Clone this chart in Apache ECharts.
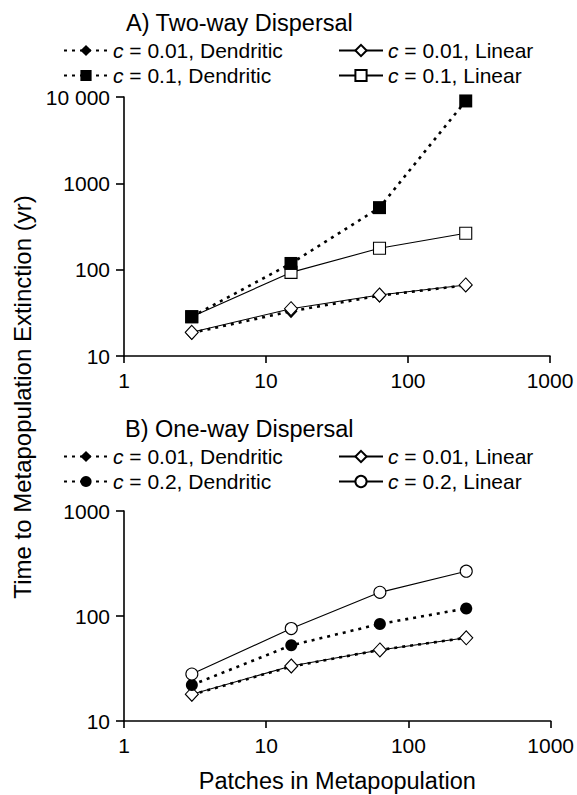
<!DOCTYPE html>
<html>
<head>
<meta charset="utf-8">
<script src="https://cdn.jsdelivr.net/npm/echarts@6/dist/echarts.min.js"></script>
<style>
html,body{margin:0;padding:0;background:#fff;}
#chart{width:577px;height:795px;}
</style>
</head>
<body>
<div id="chart"></div>
<script>
// ---- data ----
const patches = [3, 15, 63, 255];
const xTicks = [1, 10, 100, 1000];
const yTicksTop = [10, 100, 1000, 10000];
const yTicksBottom = [10, 100, 1000];

// A) Two-way dispersal
const twoDend001 = [18.5, 33, 50, 66];
const twoLin001 = [18.8, 35.3, 50.9, 66.5];
const twoDend01 = [28.5, 118, 523, 9000];
const twoLin01 = [28.5, 93, 177, 264];

// B) One-way dispersal
const oneDend001 = [17.8, 33, 47.5, 62];
const oneLin001 = [18, 33.4, 47.5, 62];
const oneDend02 = [22, 52.6, 84, 118];
const oneLin02 = [28, 76, 168, 267];

const titleA = 'A) Two-way Dispersal';
const titleB = 'B) One-way Dispersal';
const yTitle = 'Time to Metapopulation Extinction (yr)';
const xTitle = 'Patches in Metapopulation';

const legendText = {
  a1: '= 0.01, Dendritic',
  a2: '= 0.1, Dendritic',
  a3: '= 0.01, Linear',
  a4: '= 0.1, Linear',
  b1: '= 0.01, Dendritic',
  b2: '= 0.2, Dendritic',
  b3: '= 0.01, Linear',
  b4: '= 0.2, Linear'
};

const FONT = 'Liberation Sans, Arial, sans-serif';
const pairs = (ys) => patches.map((x, i) => [x, ys[i]]);

function dend(name, ys, symbol, size, xi) {
  return {
    name, type: 'line', xAxisIndex: xi, yAxisIndex: xi, data: pairs(ys),
    symbol, symbolSize: size,
    lineStyle: {color: '#000', width: 2.6, type: [3, 5]},
    itemStyle: {color: '#000', borderColor: '#000', borderWidth: 0},
    emphasis: {disabled: true}, animation: false
  };
}
function lin(name, ys, symbol, size, xi) {
  return {
    name, type: 'line', xAxisIndex: xi, yAxisIndex: xi, data: pairs(ys),
    symbol, symbolSize: size, showAllSymbol: true,
    lineStyle: {color: '#000', width: 1.1, type: 'solid'},
    itemStyle: {color: '#fff', borderColor: '#000', borderWidth: 1.1},
    emphasis: {disabled: true}, animation: false
  };
}

function xAxis(gi, withName) {
  const a = {
    type: 'log', logBase: 10, gridIndex: gi, min: 1, max: 1000,
    axisLine: {lineStyle: {color: '#000', width: 1.6}},
    axisTick: {show: true, inside: false, length: 7, lineStyle: {color: '#000', width: 1.6}},
    axisLabel: {color: '#000', fontSize: 21, fontFamily: FONT, margin: 14,
      formatter: v => String(Math.round(v))},
    minorTick: {show: false}, splitLine: {show: false}
  };
  if (withName) {
    a.name = xTitle; a.nameLocation = 'middle'; a.nameGap = 48;
    a.nameTextStyle = {color: '#000', fontSize: 23.5, fontFamily: FONT};
  }
  return a;
}
function yAxis(gi, max) {
  return {
    type: 'log', logBase: 10, gridIndex: gi, min: 10, max,
    axisLine: {show: true, lineStyle: {color: '#000', width: 1.6}},
    axisTick: {show: true, inside: false, length: 8, lineStyle: {color: '#000', width: 1.6}},
    axisLabel: {color: '#000', fontSize: 21, fontFamily: FONT, margin: 14,
      formatter: v => { const r = Math.round(v); return r === 10000 ? '10 000' : String(r); }},
    minorTick: {show: false}, splitLine: {show: false}
  };
}

function legend(names, left, top) {
  return {
    data: names, left, top, orient: 'vertical', itemGap: 4,
    itemWidth: 44, itemHeight: 14, selectedMode: false,
    formatter: n => '{i|c} {t|' + legendText[n] + '}',
    textStyle: {color: '#000', fontSize: 21, fontFamily: FONT,
      rich: {i: {fontStyle: 'italic', fontSize: 21, fontFamily: FONT, color: '#000', lineHeight: 21},
             t: {fontSize: 21, fontFamily: FONT, color: '#000', lineHeight: 21}}}
  };
}

const option = {
  backgroundColor: '#fff',
  animation: false,
  title: [
    {text: titleA, left: 121, top: 6, textStyle: {color: '#000', fontSize: 23.5, fontWeight: 'normal', fontFamily: FONT}},
    {text: titleB, left: 120, top: 412, textStyle: {color: '#000', fontSize: 23.5, fontWeight: 'normal', fontFamily: FONT}}
  ],
  legend: [
    legend(['a1', 'a2'], 58, 35),
    legend(['a3', 'a4'], 333, 35),
    legend(['b1', 'b2'], 58, 441),
    legend(['b3', 'b4'], 333, 441)
  ],
  grid: [
    {left: 124, right: 27, top: 97, bottom: 439},
    {left: 124, right: 26, top: 511, bottom: 74}
  ],
  xAxis: [xAxis(0, false), xAxis(1, true)],
  yAxis: [yAxis(0, 10000), yAxis(1, 1000)],
  graphic: [{
    type: 'text', x: 22, y: 397, rotation: Math.PI / 2,
    style: {text: yTitle, font: '24px ' + FONT, fill: '#000', align: 'center', verticalAlign: 'middle'}
  }],
  series: [
    dend('a1', twoDend001, 'diamond', [13, 14], 0),
    lin('a3', twoLin001, 'diamond', [13, 14], 0),
    lin('a4', twoLin01, 'rect', 12, 0),
    dend('a2', twoDend01, 'rect', 13, 0),
    dend('b1', oneDend001, 'diamond', [13, 14], 1),
    lin('b3', oneLin001, 'diamond', [13, 14], 1),
    dend('b2', oneDend02, 'circle', 12, 1),
    lin('b4', oneLin02, 'circle', 12, 1)
  ]
};

const chart = echarts.init(document.getElementById('chart'), null, {renderer: 'svg'});
chart.setOption(option);
</script>
</body>
</html>
